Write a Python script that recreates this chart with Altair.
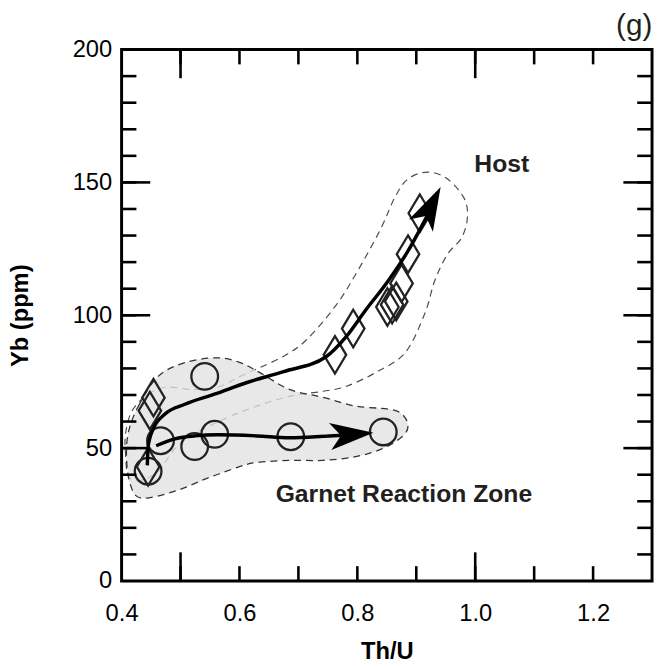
import altair as alt
import pandas as pd

# ---------------- data ----------------
# Garnet reaction zone analyses (open circles): Th/U, Yb (ppm)
circ_x = [0.445, 0.466, 0.524, 0.558, 0.687, 0.844, 0.541]
circ_y = [41.3, 52.8, 50.6, 55.2, 54.3, 56.1, 77.0]

# Host analyses (open diamonds)
diam_x = [0.445, 0.448, 0.454, 0.762, 0.793, 0.851, 0.859, 0.866, 0.875, 0.886, 0.906]
diam_y = [43.0, 64.1, 69.0, 85.1, 95.0, 103.1, 104.0, 105.2, 112.0, 123.0, 138.4]

# Host trend curve
host_tr_x = [0.4436, 0.4452, 0.4536, 0.4737, 0.5073, 0.5575, 0.6128, 0.6748, 0.7469, 0.7804, 0.8139, 0.8525, 0.886, 0.918]
host_tr_y = [43.5, 50.9, 57.2, 62.8, 66.5, 70.3, 74.7, 78.8, 84.4, 91.8, 101.9, 113.0, 124.2, 137.2]
# Garnet zone trend curve
grz_tr_x = [0.4587, 0.4905, 0.524, 0.5626, 0.6296, 0.6849, 0.752, 0.800]
grz_tr_y = [50.9, 53.5, 54.6, 55.0, 54.6, 53.9, 54.6, 55.1]

# arrow heads (tip position and direction, degrees clockwise from up)
arrow_x = [0.9413, 0.8274]
arrow_y = [148.3, 55.8]
arrow_ang = [27, 85]

# Host envelope (dashed outline)
host_env_x = [0.4067, 0.4067, 0.4168, 0.4402, 0.4737, 0.5173, 0.5626, 0.6011, 0.6346, 0.6765,
              0.7134, 0.7637, 0.8005, 0.8391, 0.8642, 0.886, 0.9195, 0.953, 0.9815, 0.9866,
              0.9765, 0.953, 0.9313, 0.9145, 0.881, 0.8307, 0.7804, 0.7419, 0.6849, 0.6296,
              0.5743, 0.5173, 0.4905, 0.462, 0.4335, 0.4117]
host_env_y = [47.9, 55.4, 63.6, 69.5, 72.9, 72.1, 72.9, 77.0, 80.3, 84.8,
              90.7, 103.7, 116.7, 132.3, 144.6, 151.3, 153.9, 151.3, 143.9, 136.4,
              129.0, 123.0, 113.0, 100.7, 85.9, 78.4, 73.2, 71.4, 69.5, 65.8,
              61.0, 54.6, 49.8, 41.3, 37.9, 39.4]

# Garnet reaction zone envelope (grey filled, dashed outline)
grz_env_x = [0.4117, 0.4285, 0.462, 0.5073, 0.5626, 0.6011, 0.6346, 0.6849, 0.7419, 0.7972,
             0.8525, 0.8759, 0.886, 0.8759, 0.8424, 0.7972, 0.7419, 0.6849, 0.6296, 0.6011,
             0.5458, 0.4905, 0.4335, 0.4151, 0.4084]
grz_env_y = [56.1, 65.8, 77.0, 82.2, 84.0, 82.2, 78.4, 72.1, 69.1, 65.8,
             64.7, 62.8, 58.4, 54.3, 49.8, 46.8, 45.4, 45.4, 44.6, 43.1,
             38.7, 33.8, 31.2, 36.1, 46.1]

labels_txt = ["Host", "Garnet Reaction Zone"]
labels_x = [1.045, 0.879]
labels_y = [156.9, 32.7]

x_labels = [0.4, 0.6, 0.8, 1.0, 1.2]
y_labels = [0, 50, 100, 150, 200]
x_minor = [0.5, 0.6, 0.7, 0.8, 0.9, 1.0, 1.1, 1.2]
x_major = [0.5, 1.0]
y_minor = [10, 20, 30, 40, 50, 60, 70, 80, 90, 100, 110, 120, 130, 140, 150, 160, 170, 180, 190]
y_major = [50, 100, 150]

# ---------------- chart ----------------
W, H = 537, 538
FONT = "Liberation Sans"
xs = alt.Scale(domain=[0.4, 1.3], nice=False, zero=False)
ys = alt.Scale(domain=[0, 200], nice=False, zero=False)

X = lambda f: alt.X(f, type="quantitative", scale=xs,
                    axis=alt.Axis(values=x_labels, format=".1f", ticks=False, domain=False, grid=False,
                                  labelFlush=False, labelOverlap=False,
                                  labelFontSize=24, labelPadding=21, labelColor="black", labelFont=FONT,
                                  title="Th/U", titleFont=FONT, titleFontSize=24, titleFontWeight="bold",
                                  titlePadding=14, titleColor="black"))
Y = lambda f: alt.Y(f, type="quantitative", scale=ys,
                    axis=alt.Axis(values=y_labels, ticks=False, domain=False, grid=False,
                                  labelFlush=False, labelOverlap=False,
                                  labelFontSize=24, labelPadding=10, labelColor="black", labelFont=FONT,
                                  title="Yb (ppm)", titleFont=FONT, titleFontSize=24, titleFontWeight="bold",
                                  titlePadding=40, titleColor="black"))

host_env = pd.DataFrame({"x": host_env_x, "y": host_env_y, "i": range(len(host_env_x))})
grz_env = pd.DataFrame({"x": grz_env_x, "y": grz_env_y, "i": range(len(grz_env_x))})
circ = pd.DataFrame({"x": circ_x, "y": circ_y})
diam = pd.DataFrame({"x": diam_x, "y": diam_y})
trends = pd.concat([
    pd.DataFrame({"x": host_tr_x, "y": host_tr_y, "i": range(len(host_tr_x)), "t": "host"}),
    pd.DataFrame({"x": grz_tr_x, "y": grz_tr_y, "i": range(len(grz_tr_x)), "t": "grz"}),
])
arrows = pd.DataFrame({"x": arrow_x, "y": arrow_y, "a": arrow_ang})
labels = pd.DataFrame({"x": labels_x, "y": labels_y, "t": labels_txt})

host_layer = alt.Chart(host_env).mark_line(
    interpolate="cardinal-closed", stroke="#4d4d4d", strokeWidth=1.2, strokeDash=[7, 5]
).encode(x=X("x"), y=Y("y"), order="i:Q")

grz_layer = alt.Chart(grz_env).mark_line(
    interpolate="cardinal-closed", stroke="#333333", strokeWidth=1.3, strokeDash=[7, 5],
    fill="#e2e2e2", fillOpacity=0.78
).encode(x=X("x"), y=Y("y"), order="i:Q")

circ_layer = alt.Chart(circ).mark_point(
    shape="circle", size=729, filled=False, stroke="#222222", strokeWidth=2.3, opacity=1
).encode(x=X("x"), y=Y("y"))

DIAMOND = "M0,-1L0.6,0L0,1L-0.6,0Z"
diam_layer = alt.Chart(diam).mark_point(
    shape=DIAMOND, size=1444, filled=False, stroke="#222222", strokeWidth=2.3, opacity=1
).encode(x=X("x"), y=Y("y"))

trend_layer = alt.Chart(trends).mark_line(
    interpolate="monotone", color="black", strokeWidth=3.5
).encode(x=X("x"), y=Y("y"), detail="t:N", order="i:Q")

ARROW = "M0,0L0.62,2L0,1.5L-0.62,2Z"
arrow_layer = alt.Chart(arrows).mark_point(
    shape=ARROW, size=1936, filled=True, color="black", opacity=1
).encode(x=X("x"), y=Y("y"), angle=alt.Angle("a:Q", scale=None))

text_layer = alt.Chart(labels).mark_text(
    font=FONT, fontSize=25, fontWeight="bold", color="#231f20", align="center", baseline="middle"
).encode(x=X("x"), y=Y("y"), text="t:N")

TW = 2.6
def xticks(vals, length):
    d = pd.DataFrame({"v": vals})
    bot = alt.Chart(d).mark_rule(color="black", strokeWidth=TW).encode(
        x=X("v"), y=alt.value(H), y2=alt.value(H - length))
    top = alt.Chart(d).mark_rule(color="black", strokeWidth=TW).encode(
        x=X("v"), y=alt.value(0), y2=alt.value(length))
    return [bot, top]

def yticks(vals, length):
    d = pd.DataFrame({"v": vals})
    left = alt.Chart(d).mark_rule(color="black", strokeWidth=TW).encode(
        y=Y("v"), x=alt.value(0), x2=alt.value(length))
    right = alt.Chart(d).mark_rule(color="black", strokeWidth=TW).encode(
        y=Y("v"), x=alt.value(W), x2=alt.value(W - length))
    return [left, right]

tick_layers = xticks(x_minor, 15) + xticks(x_major, 29) + yticks(y_minor, 15) + yticks(y_major, 29)

chart = alt.layer(
    host_layer, grz_layer, circ_layer, diam_layer, trend_layer, arrow_layer, text_layer, *tick_layers
).properties(
    width=W, height=H,
    title=alt.TitleParams("(g)", anchor="end", fontSize=30, fontWeight="normal", font=FONT,
                          color="#231f20", offset=-3, dx=-1),
    autosize=alt.AutoSizeParams(type="none"),
    padding={"left": 115, "top": 38, "right": 3, "bottom": 82},
).configure(
    background="white",
    view=alt.ViewConfig(stroke="black", strokeWidth=3),
)

chart.save("out.html", embed_options={"renderer": "svg", "actions": False})
